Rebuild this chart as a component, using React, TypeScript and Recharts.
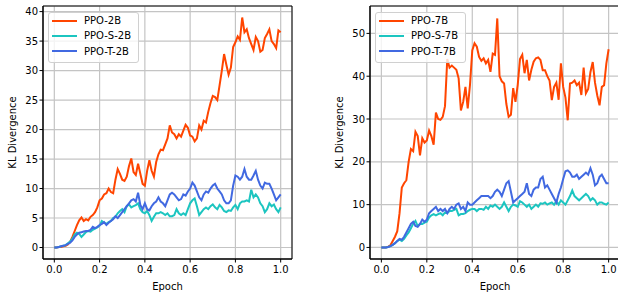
import React from "react";
import {
  LineChart,
  Line,
  XAxis,
  YAxis,
  CartesianGrid,
  Legend,
  Label,
  ReferenceArea,
} from "recharts";

const EPOCHS = [
  0, 0.01, 0.02, 0.03, 0.04, 0.05, 0.06, 0.07, 0.08, 0.09,
  0.1, 0.11, 0.12, 0.13, 0.14, 0.15, 0.16, 0.17, 0.18, 0.19,
  0.2, 0.21, 0.22, 0.23, 0.24, 0.25, 0.26, 0.27, 0.28, 0.29,
  0.3, 0.31, 0.32, 0.33, 0.34, 0.35, 0.36, 0.37, 0.38, 0.39,
  0.4, 0.41, 0.42, 0.43, 0.44, 0.45, 0.46, 0.47, 0.48, 0.49,
  0.5, 0.51, 0.52, 0.53, 0.54, 0.55, 0.56, 0.57, 0.58, 0.59,
  0.6, 0.61, 0.62, 0.63, 0.64, 0.65, 0.66, 0.67, 0.68, 0.69,
  0.7, 0.71, 0.72, 0.73, 0.74, 0.75, 0.76, 0.77, 0.78, 0.79,
  0.8, 0.81, 0.82, 0.83, 0.84, 0.85, 0.86, 0.87, 0.88, 0.89,
  0.9, 0.91, 0.92, 0.93, 0.94, 0.95, 0.96, 0.97, 0.98, 0.99,
  1.0,
];

const PPO_2B = [
  0, 0, 0.1, 0.1, 0.2, 0.3, 0.5, 1.0, 1.8, 2.8,
  3.8, 4.6, 5.1, 4.5, 4.8, 4.6, 5.2, 5.5, 6.0, 6.8,
  8.0, 8.3, 9.0, 9.2, 10.0, 9.4, 9.2, 11.5, 13.3, 12.5,
  11.5, 11.3, 12.0, 13.8, 15.1, 12.8, 12.3, 14.2, 12.5, 10.8,
  10.5, 13.0, 14.8, 13.0, 12.0, 14.5, 15.8, 16.6, 16.5, 17.5,
  18.5, 20.7, 19.5, 19.2, 18.5, 19.2, 18.8, 19.8, 20.8, 20.3,
  19.0, 18.8, 18.0, 18.5, 20.7, 20.0, 21.5, 21.2, 23.0, 24.5,
  25.7, 25.5, 25.0, 27.5, 30.0, 32.8, 31.0, 29.3, 30.5, 34.0,
  34.8, 35.8, 35.2, 39.0, 36.5, 37.0, 35.5, 34.5, 33.5, 35.7,
  35.0, 33.2, 33.5, 35.5, 36.2, 37.0, 35.0, 34.5, 33.8, 36.8,
  36.5,
];

const PPO_S_2B = [
  0, 0, 0.1, 0.2, 0.3, 0.4, 0.7, 1.0, 1.5, 2.2,
  2.5, 2.3, 1.8, 2.2, 2.6, 2.8, 2.7, 3.0, 3.2, 3.4,
  3.7, 4.5, 4.2, 4.0, 4.3, 4.5, 5.0, 5.2, 5.8, 6.2,
  6.5, 6.0, 7.0, 7.3, 6.8, 7.0, 7.2, 7.5, 6.5, 6.0,
  5.8, 6.2, 5.5, 4.5, 5.2, 5.8, 5.8, 6.0, 5.8, 5.5,
  5.8, 5.3, 5.3, 5.5, 6.5, 5.8, 5.5, 5.8, 5.5, 6.5,
  7.5, 8.0, 8.3, 7.0, 5.5, 6.0, 6.5, 6.8, 6.5, 7.0,
  7.3, 6.8, 6.5, 7.2, 6.8, 6.2, 6.0, 6.3, 6.2, 6.8,
  7.2, 6.5, 7.5, 7.8, 7.8, 8.0, 7.8, 9.8, 8.5, 9.0,
  8.5, 7.5, 7.0, 6.0, 6.5, 7.5, 7.0, 7.3, 6.5, 6.0,
  6.8,
];

const PPO_T_2B = [
  0, 0, 0.1, 0.2, 0.3, 0.4, 0.6, 0.8, 1.2, 1.8,
  2.2, 2.5, 2.6, 2.7, 2.8, 2.8, 3.0, 3.5, 3.3, 3.5,
  3.8, 4.0, 4.3, 3.8, 4.2, 4.5, 4.8, 5.3, 5.0, 5.5,
  6.0, 6.5, 7.0, 7.5, 8.0, 8.2, 7.8, 9.3, 7.2, 6.5,
  7.5, 6.5, 6.3, 7.0, 7.5, 7.8, 8.5, 7.8, 7.5, 7.0,
  8.0, 9.0, 9.3, 9.0, 8.5, 8.0, 8.2, 9.0, 8.8, 9.5,
  10.0, 11.0, 10.5, 9.5, 8.5, 8.0, 9.0, 9.5, 9.3, 10.0,
  10.5, 10.8, 10.0, 9.5, 9.0, 8.0, 7.5, 7.5, 8.0, 10.5,
  12.2, 12.0, 11.5, 12.0, 13.3, 12.0, 11.5, 11.5, 12.2, 13.0,
  11.5, 10.5, 10.0, 11.0, 10.8, 10.8, 10.0, 9.0, 8.0, 8.5,
  9.0,
];

const PPO_7B = [
  0, 0, 0, 0.2, 0.5, 1.5, 2.5, 3.8, 8.0, 14.0,
  15.0, 15.7, 20.0, 23.0, 22.5, 27.0, 26.0, 21.5, 25.5, 24.5,
  25.0, 27.3, 26.0, 24.0, 31.5, 30.0, 29.8, 30.5, 33.0, 44.0,
  42.0, 42.5, 42.0, 41.5, 39.5, 32.0, 34.0, 37.5, 32.5, 38.0,
  46.0, 47.7, 46.9, 44.5, 43.6, 44.2, 43.0, 43.8, 41.0, 45.3,
  45.0, 53.5, 40.0, 38.8, 38.3, 33.5, 30.5, 31.0, 37.2, 34.0,
  38.0, 44.0, 45.0, 40.7, 43.8, 39.0, 41.5, 43.4, 44.2, 44.4,
  43.8, 41.4, 41.4, 40.0, 39.0, 34.4, 37.5, 38.5, 34.5, 43.0,
  37.5, 35.0, 29.7, 38.3, 38.5, 39.0, 37.9, 38.5, 35.6, 42.0,
  36.0, 37.0, 41.0, 43.3, 38.5, 35.5, 33.2, 37.5, 37.9, 43.0,
  46.3,
];

const PPO_S_7B = [
  0, 0, 0, 0.1, 0.3, 0.6, 1.0, 1.5, 1.8, 1.5,
  2.0, 2.8, 3.5, 4.5, 5.5, 6.2, 5.0, 5.5, 5.5, 5.8,
  6.0, 7.0, 7.5, 7.8, 7.5, 7.8, 8.0, 7.5, 8.2, 8.0,
  8.5, 8.5, 8.8, 9.0, 7.5, 7.8, 7.8, 8.0, 8.5, 8.8,
  9.0, 9.0, 8.5, 9.0, 9.0, 8.8, 9.5, 9.0, 9.8, 9.5,
  10.0, 9.5, 9.0, 9.5, 10.5, 9.5, 8.5, 9.5, 10.0, 9.8,
  9.5, 10.8, 10.5, 10.0, 9.5, 10.0, 9.0, 9.5, 10.0, 9.5,
  10.3, 10.2, 10.5, 10.0, 10.3, 10.5, 10.0, 10.8, 10.0, 11.0,
  10.5, 10.0, 11.0, 12.0, 13.3, 12.0, 11.5, 11.0, 11.5, 12.0,
  12.5, 12.0, 11.0, 11.5, 11.0, 10.0, 10.5, 10.5, 10.2, 10.0,
  10.5,
];

const PPO_T_7B = [
  0, 0, 0, 0.1, 0.3, 0.6, 1.0, 1.5, 2.0, 1.8,
  2.5, 3.5, 4.5, 5.5, 6.0, 5.0, 4.8, 5.5, 6.5, 6.0,
  6.5, 8.0, 8.5, 9.0, 9.5, 8.5, 9.0, 8.5, 9.0, 8.0,
  9.0, 9.5, 9.0, 10.0, 10.3, 9.0, 9.5, 8.5, 10.5, 10.0,
  10.0, 10.5, 11.0, 11.5, 12.0, 12.0, 12.0, 12.0, 11.5, 12.0,
  13.0, 13.5, 13.0, 12.0, 13.5, 15.0, 15.5, 13.0, 10.5, 11.0,
  11.5, 12.0, 12.5, 13.0, 15.0, 12.5, 12.0, 13.5, 14.0, 14.0,
  16.0, 16.5, 14.0, 14.5, 13.5, 12.5, 11.5, 10.5, 12.5, 14.0,
  16.0, 17.8, 18.0, 17.5, 16.5, 16.5, 17.0, 16.0, 16.5, 17.0,
  17.5, 17.0, 18.5, 17.0, 14.5, 15.0, 16.5, 17.0, 16.0, 15.0,
  15.0,
];

const X_TICKS = [0, 0.2, 0.4, 0.6, 0.8, 1.0];
const Y_TICKS_2B = [0, 5, 10, 15, 20, 25, 30, 35, 40];
const Y_TICKS_7B = [0, 10, 20, 30, 40, 50];
const NAMES_2B = ["PPO-2B", "PPO-S-2B", "PPO-T-2B"];
const NAMES_7B = ["PPO-7B", "PPO-S-7B", "PPO-T-7B"];

const COLORS = ["#ff4500", "#1cc5c0", "#4169e1"];
const FONT = '"DejaVu Sans", sans-serif';
const X_DOMAIN: [number, number] = [-0.05, 1.05];

const data2B = EPOCHS.map((epoch, i) => ({
  epoch,
  ppo: PPO_2B[i],
  ppoS: PPO_S_2B[i],
  ppoT: PPO_T_2B[i],
}));

const data7B = EPOCHS.map((epoch, i) => ({
  epoch,
  ppo: PPO_7B[i],
  ppoS: PPO_S_7B[i],
  ppoT: PPO_T_7B[i],
}));

function LegendBox({ payload }: any) {
  return (
    <div
      style={{
        border: "1px solid #d0d0d0",
        borderRadius: 3,
        background: "rgba(255,255,255,0.8)",
        padding: "0 7px 3px 3px",
        fontFamily: FONT,
        fontSize: 10,
        color: "#000",
        width: "max-content",
      }}
    >
      {(payload || []).map((p: any) => (
        <div
          key={p.value}
          style={{ display: "flex", alignItems: "center", height: 15.3 }}
        >
          <span
            style={{
              width: 25,
              height: 2,
              background: p.color,
              marginRight: 7,
              display: "inline-block",
            }}
          />
          <span>{p.value}</span>
        </div>
      ))}
    </div>
  );
}

type PanelProps = {
  data: any[];
  names: string[];
  yDomain: [number, number];
  yTicks: number[];
  yAxisWidth: number;
  yLabelX: number;
  width: number;
  marginRight: number;
  legendLeft: number;
};

function Panel({
  data,
  names,
  yDomain,
  yTicks,
  yAxisWidth,
  yLabelX,
  width,
  marginRight,
  legendLeft,
}: PanelProps) {
  const tick = { fill: "#000", fontSize: 10, fontFamily: FONT };
  return (
    <LineChart
      width={width}
      height={294}
      data={data}
      margin={{ top: 6, right: marginRight, bottom: 0, left: 0 }}
    >
      <CartesianGrid stroke="#c4c4c4" strokeWidth={1.2} />
      <XAxis
        dataKey="epoch"
        type="number"
        domain={X_DOMAIN}
        ticks={X_TICKS}
        allowDataOverflow
        tickFormatter={(v: number) => v.toFixed(1)}
        height={35}
        stroke="#000"
        tick={tick}
        tickSize={3.5}
        tickMargin={3}
      >
        <Label
          content={({ viewBox }: any) => (
            <text
              x={viewBox.x + viewBox.width / 2}
              y={viewBox.y + 27}
              textAnchor="middle"
              dominantBaseline="central"
              fontSize={10}
              fontFamily={FONT}
              fill="#000"
            >
              Epoch
            </text>
          )}
        />
      </XAxis>
      <YAxis
        type="number"
        domain={yDomain}
        ticks={yTicks}
        allowDataOverflow
        width={yAxisWidth}
        stroke="#000"
        tick={tick}
        tickSize={3.5}
        tickMargin={1.5}
      >
        <Label
          content={({ viewBox }: any) => {
            const cx = viewBox.x + yLabelX;
            const cy = viewBox.y + viewBox.height / 2;
            return (
              <text
                x={cx}
                y={cy}
                transform={`rotate(-90 ${cx} ${cy})`}
                textAnchor="middle"
                dominantBaseline="central"
                fontSize={10}
                fontFamily={FONT}
                fill="#000"
              >
                KL Divergence
              </text>
            );
          }}
        />
      </YAxis>
      <ReferenceArea
        x1={X_DOMAIN[0]}
        x2={X_DOMAIN[1]}
        y1={yDomain[0]}
        y2={yDomain[1]}
        fill="none"
        stroke="#000"
        strokeWidth={1}
      />
      <Legend
        layout="horizontal"
        verticalAlign="middle"
        align="center"
        wrapperStyle={{ top: 12, left: legendLeft, width: "auto" }}
        content={LegendBox}
      />
      <Line
        dataKey="ppo"
        name={names[0]}
        stroke={COLORS[0]}
        strokeWidth={2}
        dot={false}
        type="linear"
        isAnimationActive={false}
      />
      <Line
        dataKey="ppoS"
        name={names[1]}
        stroke={COLORS[1]}
        strokeWidth={2}
        dot={false}
        type="linear"
        isAnimationActive={false}
      />
      <Line
        dataKey="ppoT"
        name={names[2]}
        stroke={COLORS[2]}
        strokeWidth={2}
        dot={false}
        type="linear"
        isAnimationActive={false}
      />
    </LineChart>
  );
}

export default function App() {
  return (
    <div
      style={{
        position: "fixed",
        left: 0,
        top: 0,
        width: 618,
        height: 294,
        overflow: "hidden",
        background: "#fff",
      }}
    >
      <div style={{ position: "absolute", left: 0, top: 0 }}>
        <Panel
          data={data2B}
          names={NAMES_2B}
          yDomain={[-1.95, 40.95]}
          yTicks={Y_TICKS_2B}
          yAxisWidth={43}
          yLabelX={12}
          width={300}
          marginRight={8}
          legendLeft={48}
        />
      </div>
      <div style={{ position: "absolute", left: 309, top: 0 }}>
        <Panel
          data={data7B}
          names={NAMES_7B}
          yDomain={[-2.7, 56.4]}
          yTicks={Y_TICKS_7B}
          yAxisWidth={61}
          yLabelX={30}
          width={312}
          marginRight={1}
          legendLeft={66}
        />
      </div>
    </div>
  );
}
